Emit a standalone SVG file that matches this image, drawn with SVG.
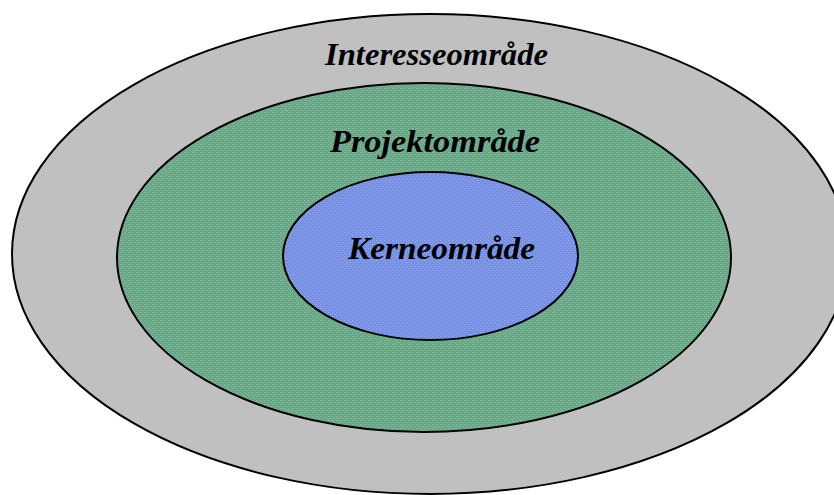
<svg xmlns="http://www.w3.org/2000/svg" width="834" height="495" viewBox="0 0 834 495">
<style>
.lbl{font-family:"Liberation Serif","Times New Roman",serif;font-weight:bold;font-style:italic;fill:#000;text-anchor:middle}
.ring{stroke:#000;stroke-width:2}
</style>
<defs>
<pattern id="pg" width="4" height="4" patternUnits="userSpaceOnUse">
<rect width="4" height="4" fill="#6aa987"/>
<rect x="0" y="0" width="1" height="1" fill="#8cc0a4"/>
<rect x="2" y="2" width="1" height="1" fill="#8cc0a4"/>
</pattern>
<pattern id="pb" width="4" height="4" patternUnits="userSpaceOnUse">
<rect width="4" height="4" fill="#7590e6"/>
<rect x="0" y="0" width="1" height="1" fill="#9aaef0"/>
<rect x="2" y="2" width="1" height="1" fill="#9aaef0"/>
</pattern>
</defs>
<rect width="834" height="495" fill="#fff"/>
<g id="interesse">
<ellipse class="ring" cx="430" cy="254" rx="418" ry="240" fill="#c0c0c0"/>
<text class="lbl" x="436.5" y="65" font-size="31" textLength="223" lengthAdjust="spacingAndGlyphs">Interesseområde</text>
</g>
<g id="projekt">
<ellipse class="ring" cx="424" cy="257.5" rx="307" ry="174.5" fill="url(#pg)"/>
<text class="lbl" x="435" y="152" font-size="31" textLength="210" lengthAdjust="spacingAndGlyphs">Projektområde</text>
</g>
<g id="kerne">
<ellipse class="ring" cx="430.5" cy="256" rx="147.5" ry="84" fill="url(#pb)"/>
<text class="lbl" x="441.5" y="259" font-size="32" textLength="187" lengthAdjust="spacingAndGlyphs">Kerneområde</text>
</g>
<g id="connectors"/>
</svg>
